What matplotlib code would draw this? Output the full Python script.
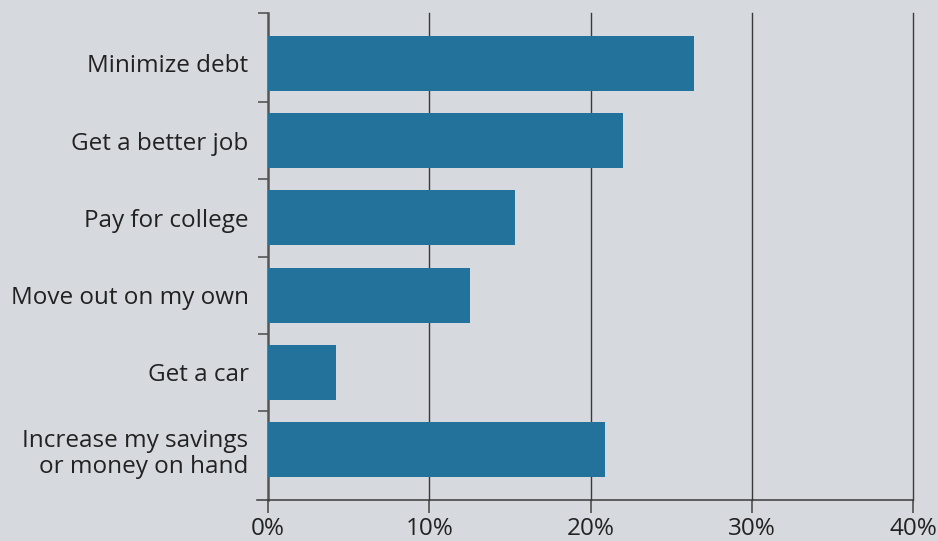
import matplotlib
matplotlib.use("Agg")
import matplotlib.pyplot as plt
import numpy as np

categories = ["Minimize debt", "Get a better job", "Pay for college",
              "Move out on my own", "Get a car",
              "Increase my savings\nor money on hand"]
values = [26.4, 22.0, 15.3, 12.5, 4.2, 20.9]
xticks = [0, 10, 20, 30, 40]
xticklabels = ["0%", "10%", "20%", "30%", "40%"]

bg = "#d6d9de"
bar_color = "#23729b"
line_color = "#3a3a3a"

plt.rcParams['font.family'] = ['Open Sans', 'Noto Sans', 'DejaVu Sans']

fig = plt.figure(figsize=(9.38, 5.41), dpi=100, facecolor=bg)
ax = fig.add_axes([268/938, 1-500/541, (913-268)/938, (500-13)/541])
ax.set_facecolor(bg)

y = np.arange(len(categories))
ax.barh(y, values, height=0.71, color=bar_color, zorder=3)

ax.set_xlim(0, 40)
ax.set_ylim(5.65, -0.65)

for s in ["top", "right"]:
    ax.spines[s].set_visible(False)
ax.spines["left"].set_color("#555555")
ax.spines["left"].set_linewidth(1.8)
ax.spines["bottom"].set_color(line_color)
ax.spines["bottom"].set_linewidth(1.1)
ax.spines["bottom"].set_bounds(-0.7, 40)
ax.spines["bottom"].set_zorder(4)

for xv in xticks[1:]:
    ax.axvline(xv, color=line_color, lw=1.0, zorder=1, clip_on=False)

ax.set_xticks(xticks)
ax.set_xticklabels(xticklabels, fontsize=17.5, color="#222222")
ax.tick_params(axis="x", length=9, width=1.1, color="#444444", pad=3)

ax.set_yticks(y)
ax.set_yticklabels(categories, fontsize=17.5, color="#222222", linespacing=1.15)
ax.tick_params(axis="y", which="major", length=0, pad=14)
ax.set_yticks([-0.65, 0.5, 1.5, 2.5, 3.5, 4.5], minor=True)
ax.tick_params(axis="y", which="minor", length=7.5, width=1.2, color="#555555")

fig.savefig("out.png", dpi=100, facecolor=bg)
